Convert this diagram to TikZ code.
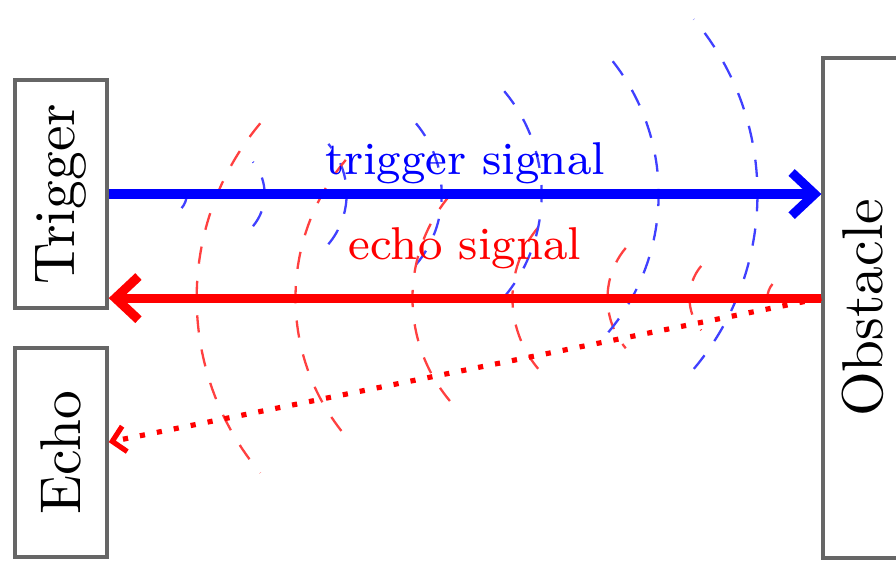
\documentclass[tikz,border=0pt]{standalone}
\usepackage{amsmath}
\usepackage{tikz}
\usetikzlibrary{arrows.meta}
\usetikzlibrary{calc}

\begin{document}
\begin{tikzpicture}[
	box/.style={draw=black!60, semithick, inner sep=0pt},
	siglabel/.style={font=\footnotesize, inner sep=0pt},
	bluewave/.style={blue!75, dashed},
	redwave/.style={red!75, dashed},
	trigarrow/.style={blue, line width=1.6pt, -{Straight Barb[length=4pt,width=7.5pt]}},
	echoarrow/.style={red, line width=1.6pt, -{Straight Barb[length=4pt,width=7.5pt]}},
	echodots/.style={red, line width=0.9pt, dash pattern=on 0.9pt off 2.1pt, -{Straight Barb[length=2.2pt,width=4.5pt]}}
	]
			\useasboundingbox (0,0) rectangle (5.476,3.484);
			\node[box, minimum width=0.562cm, minimum height=1.394cm] (trigger) at (0.373,2.298) {\rotatebox{90}{Trigger}};
			\node[box, minimum width=0.562cm, minimum height=1.278cm] (echo) at (0.373,0.718) {\rotatebox{90}{Echo}};
			\node[box, minimum width=0.489cm, minimum height=3.056cm] (obstacle) at (5.275,1.601) {\rotatebox{90}{Obstacle}};
			\coordinate (bounce) at ($(obstacle.west)+(0,0.061)$);
			\coordinate (pin) at ($(echo.east)+(0,0.064)$);
			\foreach \d/\r in {0.477/0.134, 0.953/0.306, 1.454/0.477, 2.035/0.672, 2.646/0.978, 3.361/1.314, 3.965/1.662}{
				\draw[bluewave] ($(trigger.east)+(\d-\r,0)+(-40:\r)$) arc[start angle=-40, end angle=40, radius=\r];
				\draw[redwave] ($(bounce)+(-\d+0.147+\r,0)+(140:\r)$) arc[start angle=140, end angle=220, radius=\r];
			}
			\draw[trigarrow] (trigger.east) -- (trigger.east -| obstacle.west) node[siglabel, midway, above=1pt, text=blue] (triglabel) {trigger signal};
			\draw[echoarrow] (bounce) -- (bounce -| trigger.east) node[siglabel, midway, above=4.2pt, text=red] (echolabel) {echo signal};
			\draw[echodots] (bounce) -- (pin);
		\end{tikzpicture}
\end{document}
